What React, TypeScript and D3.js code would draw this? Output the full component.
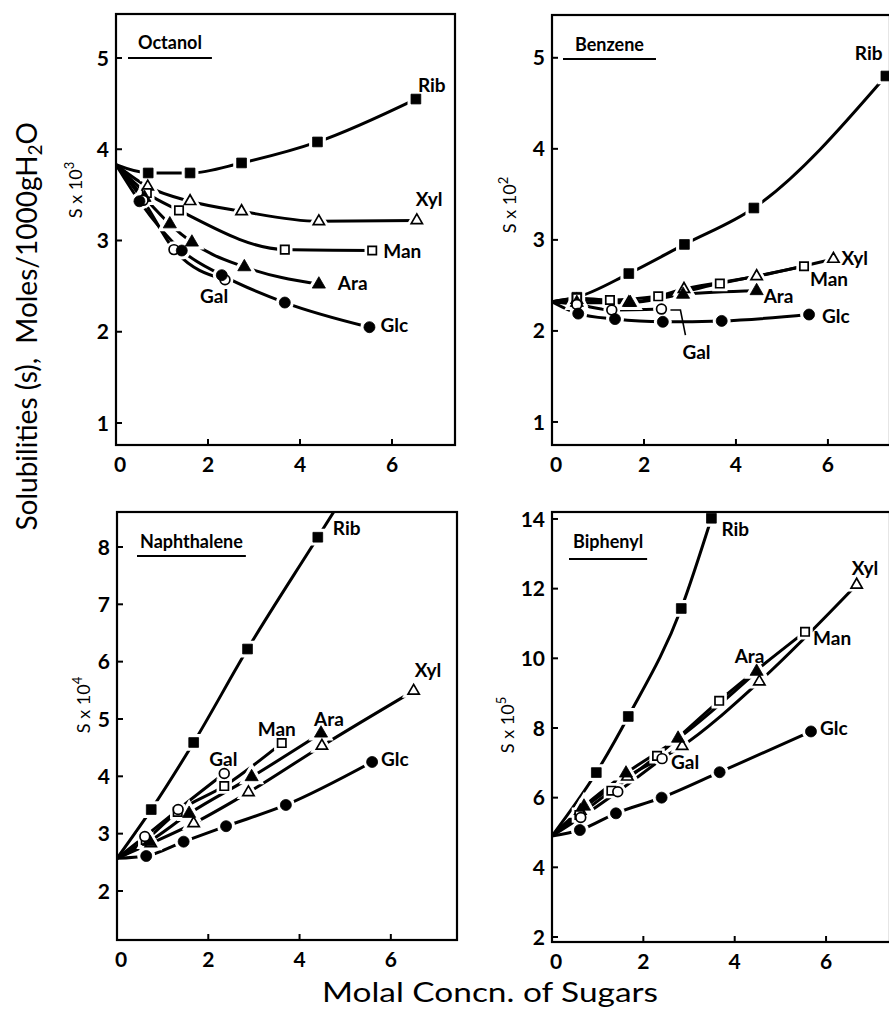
import React, { useEffect, useRef } from "react";
import * as d3 from "d3";

const W = 889;
const H = 1010;

// ---------- tick values ----------
const xTickValues = [0, 2, 4, 6];
const ticksOctanol = [1, 2, 3, 4, 5];
const ticksBenzene = [1, 2, 3, 4, 5];
const ticksNaphthalene = [2, 3, 4, 5, 6, 7, 8];
const ticksBiphenyl = [2, 4, 6, 8, 10, 12, 14];

const sugars = ["Rib", "Xyl", "Man", "Ara", "Gal", "Glc"];

// ---------- Octanol (S x 10^3) ----------
const octanolS0 = 3.83;
const octanolRib = [[0.7, 3.74], [1.61, 3.74], [2.73, 3.85], [4.38, 4.08], [6.52, 4.55]];
const octanolXyl = [[0.69, 3.59], [1.61, 3.43], [2.73, 3.32], [4.41, 3.21], [6.54, 3.22]];
const octanolMan = [[0.67, 3.52], [1.37, 3.33], [3.67, 2.9], [5.57, 2.89]];
const octanolAra = [[0.62, 3.47], [1.17, 3.18], [1.65, 2.98], [2.79, 2.71], [4.41, 2.52]];
const octanolGal = [[0.59, 3.44], [1.26, 2.9], [2.37, 2.57]];
const octanolGlc = [[0.51, 3.43], [1.43, 2.89], [2.3, 2.62], [3.67, 2.32], [5.51, 2.05]];

// ---------- Benzene (S x 10^2) ----------
const benzeneS0 = 2.32;
const benzeneRib = [[0.54, 2.37], [1.67, 2.63], [2.88, 2.95], [4.39, 3.35], [7.26, 4.8]];
const benzeneXyl = [[0.54, 2.34], [1.67, 2.31], [2.87, 2.46], [4.45, 2.6], [6.12, 2.79]];
const benzeneMan = [[0.54, 2.36], [1.26, 2.34], [2.31, 2.38], [3.65, 2.52], [5.48, 2.71]];
const benzeneAra = [[0.54, 2.31], [1.7, 2.31], [2.85, 2.4], [4.45, 2.44]];
const benzeneGal = [[0.54, 2.29], [1.3, 2.23], [2.38, 2.24]];
const benzeneGlc = [[0.57, 2.19], [1.37, 2.13], [2.41, 2.1], [3.69, 2.11], [5.59, 2.18]];

// ---------- Naphthalene (S x 10^4) ----------
const naphS0 = 2.57;
const naphRib = [[0.75, 3.42], [1.68, 4.59], [2.86, 6.22], [4.4, 8.17]];
const naphXyl = [[0.74, 2.83], [1.68, 3.18], [2.88, 3.72], [4.49, 4.53], [6.5, 5.49]];
const naphMan = [[0.63, 2.89], [1.33, 3.38], [2.35, 3.83], [3.61, 4.58]];
const naphAra = [[0.7, 2.86], [1.58, 3.35], [2.95, 3.99], [4.47, 4.75]];
const naphGal = [[0.61, 2.95], [1.34, 3.42], [2.35, 4.05]];
const naphGlc = [[0.64, 2.61], [1.46, 2.86], [2.39, 3.13], [3.7, 3.5], [5.59, 4.25]];

// ---------- Biphenyl (S x 10^5) ----------
const biphS0 = 4.9;
const biphRib = [[0.97, 6.72], [1.67, 8.33], [2.83, 11.43], [3.49, 14.02]];
const biphXyl = [[0.62, 5.62], [1.65, 6.6], [2.85, 7.48], [4.54, 9.33], [6.67, 12.11]];
const biphMan = [[0.6, 5.5], [1.3, 6.2], [2.3, 7.2], [3.66, 8.78], [5.54, 10.76]];
const biphAra = [[0.7, 5.75], [1.62, 6.7], [2.76, 7.7], [4.48, 9.62]];
const biphGal = [[0.63, 5.43], [1.44, 6.17], [2.41, 7.12]];
const biphGlc = [[0.61, 5.07], [1.4, 5.55], [2.4, 6.0], [3.67, 6.73], [5.67, 7.9]];

// ---------- layout (positions & styles, separate from data) ----------
const FONT = "Lato, 'DejaVu Sans', sans-serif";

const panels = [
  {
    title: "Octanol", exp: "3", s0: octanolS0, yTicks: ticksOctanol,
    data: { Rib: octanolRib, Xyl: octanolXyl, Man: octanolMan, Ara: octanolAra, Gal: octanolGal, Glc: octanolGlc },
    box: [116, 14, 455, 445], xDomain: [0, 7.37], yDomain: [0.759, 5.482],
    expPos: [82, 190], extend: [] as string[],
    labelOff: { Rib: [2, -7], Xyl: [-1, -14], Man: [11, 7], Ara: [19, 6], Gal: [-25, 23], Glc: [11, 5] },
    titleOff: [22, 35, 12, 44], leader: null as string | null,
  },
  {
    title: "Benzene", exp: "2", s0: benzeneS0, yTicks: ticksBenzene,
    data: { Rib: benzeneRib, Xyl: benzeneXyl, Man: benzeneMan, Ara: benzeneAra, Gal: benzeneGal, Glc: benzeneGlc },
    box: [552, 15, 890, 445], xDomain: [0, 7.35], yDomain: [0.747, 5.47],
    expPos: [516, 205], extend: [] as string[],
    labelOff: { Rib: [-31, -16], Xyl: [8, 6], Man: [6, 20], Ara: [7, 12], Gal: [21, 50], Glc: [13, 8] },
    titleOff: [23, 36, 11, 44], leader: "Gal",
  },
  {
    title: "Naphthalene", exp: "4", s0: naphS0, yTicks: ticksNaphthalene,
    data: { Rib: naphRib, Xyl: naphXyl, Man: naphMan, Ara: naphAra, Gal: naphGal, Glc: naphGlc },
    box: [117, 512, 457, 940], xDomain: [0, 7.45], yDomain: [1.145, 8.61],
    expPos: [90, 705], extend: ["Rib"],
    labelOff: { Rib: [15, -2], Xyl: [1, -14], Man: [-24, -7], Ara: [-7, -7], Gal: [-15, -7], Glc: [9, 4] },
    titleOff: [23, 36, 20, 44], leader: null,
  },
  {
    title: "Biphenyl", exp: "5", s0: biphS0, yTicks: ticksBiphenyl,
    data: { Rib: biphRib, Xyl: biphXyl, Man: biphMan, Ara: biphAra, Gal: biphGal, Glc: biphGlc },
    box: [552, 512, 890, 942], xDomain: [0, 7.4], yDomain: [1.856, 14.2],
    expPos: [514, 725], extend: [] as string[],
    labelOff: { Rib: [10, 18], Xyl: [-5, -10], Man: [8, 13], Ara: [-22, -9], Gal: [9, 10], Glc: [9, 4] },
    titleOff: [21, 36, 17, 47], leader: null,
  },
];

const markerStyle: Record<string, { type: d3.SymbolType; size: number; filled: boolean }> = {
  Rib: { type: d3.symbolSquare, size: 95, filled: true },
  Xyl: { type: d3.symbolTriangle, size: 55, filled: false },
  Man: { type: d3.symbolSquare, size: 70, filled: false },
  Ara: { type: d3.symbolTriangle, size: 75, filled: true },
  Gal: { type: d3.symbolCircle, size: 75, filled: false },
  Glc: { type: d3.symbolCircle, size: 95, filled: true },
};

export default function App() {
  const ref = useRef<SVGSVGElement | null>(null);

  useEffect(() => {
    const svg = d3.select(ref.current);
    svg.selectAll("*").remove();
    svg.append("rect").attr("width", W).attr("height", H).attr("fill", "#fff");
    const defs = svg.append("defs");

    panels.forEach((p, i) => {
      const [l, t, r, b] = p.box;
      const x = d3.scaleLinear().domain(p.xDomain).range([l, r]);
      const y = d3.scaleLinear().domain(p.yDomain).range([b, t]);
      const g = svg.append("g");
      const clipId = `clip${i}`;
      defs.append("clipPath").attr("id", clipId).append("rect")
        .attr("x", l).attr("y", t).attr("width", r - l).attr("height", b - t);

      const lineG = g.append("g").attr("clip-path", `url(#${clipId})`);
      const line = d3.line<number[]>().x((d) => x(d[0])).y((d) => y(d[1])).curve(d3.curveMonotoneX);

      sugars.forEach((s) => {
        const pts: number[][] = [[0, p.s0], ...(p.data as any)[s]];
        if (p.extend.includes(s)) {
          const n = pts.length;
          const a = pts[n - 2], c = pts[n - 1];
          pts.push([c[0] + (c[0] - a[0]), c[1] + (c[1] - a[1])]);
        }
        lineG.append("path").attr("d", line(pts) as string)
          .attr("fill", "none").attr("stroke", "#000").attr("stroke-width", 3)
          .attr("stroke-linejoin", "round");
      });

      // halos then markers
      const haloG = g.append("g");
      const markG = g.append("g");
      sugars.forEach((s) => {
        const st = markerStyle[s];
        const sym = d3.symbol().type(st.type).size(st.size)();
        ((p.data as any)[s] as number[][]).forEach((d) => {
          const tr = `translate(${x(d[0])},${y(d[1])})`;
          haloG.append("path").attr("d", sym as string).attr("transform", tr)
            .attr("fill", "#fff").attr("stroke", "#fff").attr("stroke-width", 7);
          markG.append("path").attr("d", sym as string).attr("transform", tr)
            .attr("fill", st.filled ? "#000" : "#fff")
            .attr("stroke", "#000").attr("stroke-width", st.filled ? 0.8 : 1.7);
        });
      });

      // frame
      g.append("rect").attr("x", l).attr("y", t).attr("width", r - l).attr("height", b - t)
        .attr("fill", "none").attr("stroke", "#000").attr("stroke-width", 2.2);

      // y ticks
      p.yTicks.forEach((v) => {
        g.append("line").attr("x1", l).attr("x2", l + 6).attr("y1", y(v)).attr("y2", y(v))
          .attr("stroke", "#000").attr("stroke-width", 2);
        g.append("text").attr("x", l - 7).attr("y", y(v)).attr("dy", "0.36em")
          .attr("text-anchor", "end").attr("font-family", FONT).attr("font-weight", 700)
          .attr("font-size", 21).text(String(v));
      });
      // x ticks
      xTickValues.forEach((v) => {
        if (v !== 0) {
          g.append("line").attr("x1", x(v)).attr("x2", x(v)).attr("y1", b).attr("y2", b - 6)
            .attr("stroke", "#000").attr("stroke-width", 2);
        }
        g.append("text").attr("x", x(v) + (v === 0 ? 4 : 0)).attr("y", b + 27)
          .attr("text-anchor", "middle").attr("font-family", FONT).attr("font-weight", 700)
          .attr("font-size", 21).text(String(v));
      });

      // title with underline
      const [tdx, tdy, udx, udy] = p.titleOff;
      const tt = g.append("text").attr("x", l + tdx).attr("y", t + tdy)
        .attr("font-family", FONT).attr("font-weight", 700).attr("font-size", 18).text(p.title);
      const tw = (tt.node() as SVGTextElement).getComputedTextLength();
      g.append("line").attr("x1", l + udx).attr("x2", l + tdx + tw + (tdx - udx))
        .attr("y1", t + udy).attr("y2", t + udy).attr("stroke", "#000").attr("stroke-width", 2);

      // series labels
      sugars.forEach((s) => {
        const pts = (p.data as any)[s] as number[][];
        const last = pts[pts.length - 1];
        const [dx, dy] = (p.labelOff as any)[s];
        const px = x(last[0]), py = y(last[1]);
        g.append("text").attr("x", px + dx).attr("y", py + dy)
          .attr("font-family", FONT).attr("font-weight", 700).attr("font-size", 19).text(s);
        if (p.leader === s) {
          g.append("path").attr("d", `M${px + 9},${py + 1}H${px + 19}L${px + 24},${py + 26}`)
            .attr("fill", "none").attr("stroke", "#000").attr("stroke-width", 1.6);
        }
      });

      // S x 10^n label
      const [ex, ey] = p.expPos;
      const et = svg.append("text").attr("transform", `translate(${ex},${ey}) rotate(-90)`)
        .attr("text-anchor", "middle").attr("font-family", FONT).attr("font-size", 18);
      et.append("tspan").text("S x 10");
      et.append("tspan").attr("dy", -8).attr("font-size", 13).text(p.exp);
    });

    // big y label
    const yl = svg.append("text").attr("transform", `translate(37,122) rotate(-90)`)
      .attr("text-anchor", "end").attr("font-family", FONT).attr("font-size", 28);
    yl.append("tspan").text("Solubilities (s),\u00a0\u00a0Moles/1000gH");
    yl.append("tspan").attr("dy", 5).attr("font-size", 19).text("2");
    yl.append("tspan").attr("dy", -5).text("O");

    // x label
    svg.append("text").attr("x", 322).attr("y", 1002)
      .attr("textLength", 336).attr("lengthAdjust", "spacingAndGlyphs")
      .attr("font-family", FONT).attr("font-size", 27).text("Molal Concn. of Sugars");
  }, []);

  return (
    <svg ref={ref} width={W} height={H}
      style={{ position: "absolute", left: 0, top: 0, display: "block" }} />
  );
}
